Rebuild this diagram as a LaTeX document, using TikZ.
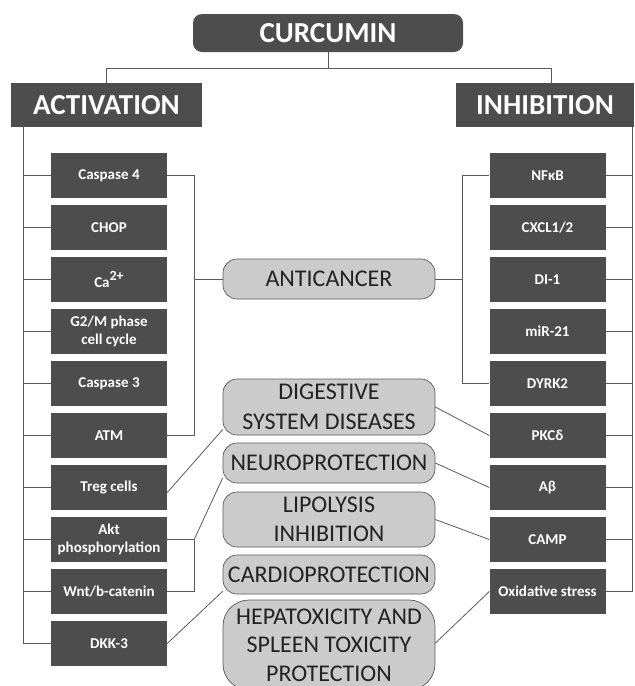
\documentclass[tikz,border=0pt]{standalone}
\usepackage{fontspec}
\setmainfont{Carlito}
\usetikzlibrary{calc}
\definecolor{dark}{HTML}{4D4D4D}
\definecolor{light}{HTML}{CBCBCB}
\definecolor{ln}{HTML}{5A5A5A}
\definecolor{txt}{HTML}{222222}
\begin{document}
\begin{tikzpicture}[x=1pt,y=-1pt,
  darkbox/.style={fill=dark, text=white, font=\bfseries\fontsize{15}{17.5}\selectfont, minimum width=116pt, minimum height=45pt, inner sep=0pt, align=center},
  headbox/.style={fill=dark, text=white, font=\bfseries\fontsize{29}{31}\selectfont, inner sep=0pt, minimum height=44pt},
  effbox/.style={fill=light, draw=ln, line width=0.7pt, rounded corners=14pt, minimum width=212pt, inner sep=0pt, align=center, font=\fontsize{24}{29.5}\selectfont, text=txt},
  conn/.style={draw=ln, line width=0.8pt}]
\useasboundingbox (0,0) rectangle (635,686);
\clip (0,0) rectangle (635,686);

% headers
\node[headbox, rounded corners=9pt, minimum width=270pt, minimum height=38pt] (cur) at (328,33) {CURCUMIN};
\node[headbox, minimum width=191pt] (act) at (106.5,105) {ACTIVATION};
\node[headbox, minimum width=178pt] (inh) at (545,105) {INHIBITION};

% left column
\node[darkbox] (c4)   at (109,175.5) {Caspase 4};
\node[darkbox] (chop) at (109,227.5) {CHOP};
\node[darkbox] (ca)   at (109,279.5) {Ca\raisebox{0.42em}{\fontsize{14}{14}\selectfont 2+}};
\node[darkbox] (g2m)  at (109,331.5) {G2/M phase\\cell cycle};
\node[darkbox] (c3)   at (109,383.5) {Caspase 3};
\node[darkbox] (atm)  at (109,435.5) {ATM};
\node[darkbox] (treg) at (109,487.5) {Treg cells};
\node[darkbox] (akt)  at (109,539.5) {Akt\\phosphorylation};
\node[darkbox] (wnt)  at (109,591.5) {Wnt/b-catenin};
\node[darkbox] (dkk)  at (109,643.5) {DKK-3};

% right column
\node[darkbox] (nfkb) at (547.5,175.5) {NFκB};
\node[darkbox] (cxcl) at (547.5,227.5) {CXCL1/2};
\node[darkbox] (di)   at (547.5,279.5) {DI-1};
\node[darkbox] (mir)  at (547.5,331.5) {miR-21};
\node[darkbox] (dyrk) at (547.5,383.5) {DYRK2};
\node[darkbox] (pkc)  at (547.5,435.5) {PKCδ};
\node[darkbox] (ab)   at (547.5,487.5) {Aβ};
\node[darkbox] (camp) at (547.5,539.5) {CAMP};
\node[darkbox] (ox)   at (547.5,591.5) {Oxidative stress};

% effects
\node[effbox, minimum height=40pt] (anti)   at (329,279)   {ANTICANCER};
\node[effbox, minimum height=56pt] (dig)    at (329,407)   {DIGESTIVE\\SYSTEM DISEASES};
\node[effbox, minimum height=40pt] (neuro)  at (329,463)   {NEUROPROTECTION};
\node[effbox, minimum height=55pt] (lipo)   at (329,519.5) {LIPOLYSIS\\INHIBITION};
\node[effbox, minimum height=39pt] (cardio) at (329,574.5) {CARDIOPROTECTION};
\node[effbox, minimum height=90pt, rounded corners=26pt, font=\fontsize{24}{28.5}\selectfont] (hep) at (329,645) {HEPATOXICITY AND\\SPLEEN TOXICITY\\PROTECTION};

% tree from CURCUMIN
\draw[conn] (cur.south) -- ++(0,16) coordinate (tj) -| (act.north);
\draw[conn] (tj) -| ($(inh.north)+(6,0)$);

% spines
\coordinate (ls) at (23.5,0);
\coordinate (rs) at (632,0);
\draw[conn] (act.south -| ls) |- (dkk.west);
\draw[conn] (inh.south -| rs) |- (ox.east);
\foreach \n in {c4,chop,ca,g2m,c3,atm,treg,akt,wnt}
  \draw[conn] (\n.west) -- (\n.west -| ls);
\foreach \n in {nfkb,cxcl,di,mir,dyrk,pkc,ab,camp}
  \draw[conn] (\n.east) -- (\n.east -| rs);

% anticancer brackets
\draw[conn] (c4.east) -| ($(atm.east)+(27,0)$) -- (atm.east);
\draw[conn] (anti.west) -- ++(-29,0);
\draw[conn] (nfkb.west) -| ($(dyrk.west)+(-27,0)$) -- (dyrk.west);
\draw[conn] (anti.east) -- ++(27,0);

% left diagonals
\draw[conn] (treg.-5) -- (dig.192);
\draw[conn] (akt.east) -- ++(27,0) coordinate (ak) -- (neuro.188);
\draw[conn] (ak) |- (wnt.east);
\draw[conn] (dkk.east) -- (cardio.189);

% right diagonals
\draw[conn] (dig.east) -- (pkc.west);
\draw[conn] (neuro.east) -- (ab.west);
\draw[conn] (lipo.east) -- (camp.west);
\draw[conn] (hep.1) -- (ox.west);
\end{tikzpicture}
\end{document}
